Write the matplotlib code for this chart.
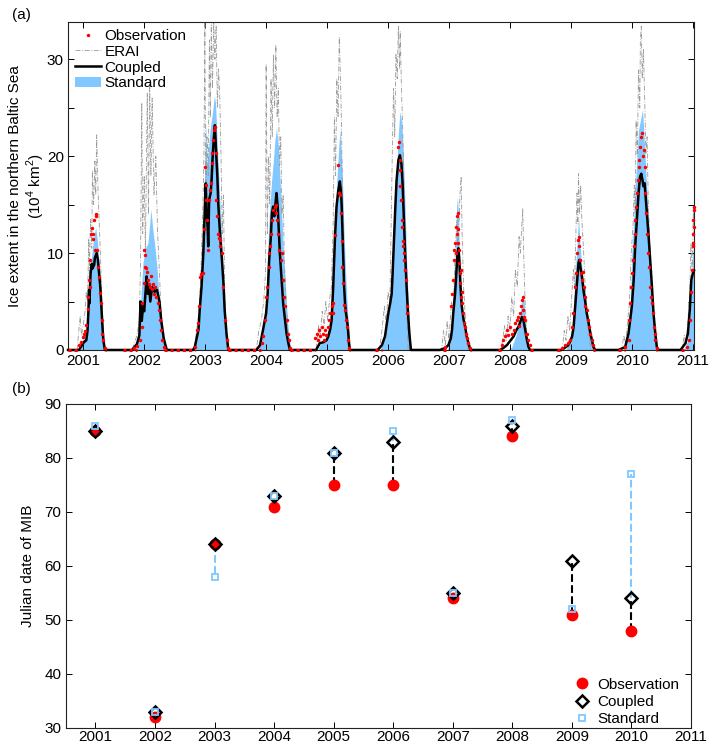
import matplotlib
matplotlib.use("Agg")
import matplotlib.pyplot as plt
import numpy as np
from matplotlib.lines import Line2D
from matplotlib.patches import Patch

plt.rcParams["font.family"] = ["Liberation Sans", "DejaVu Sans"]
plt.rcParams["mathtext.fontset"] = "custom"
plt.rcParams["mathtext.rm"] = "Liberation Sans"
plt.rcParams["font.size"] = 11

# ---------------------------------------------------------------------------
# (a) ice extent, 10^4 km^2 at (decimal year, value)
# ---------------------------------------------------------------------------
COUPLED = [
    (2000.75, 0),
    (2000.93, 0), (2000.98, 0.5), (2001.01, 0.8), (2001.05, 1.0), (2001.07, 2.0), (2001.085, 4.1),
    (2001.095, 6.2), (2001.10, 4.8), (2001.11, 6.5), (2001.12, 7.9), (2001.14, 8.9), (2001.15, 8.4),
    (2001.18, 8.8), (2001.19, 9.5), (2001.22, 10.0), (2001.24, 9.3), (2001.26, 7.9), (2001.28, 6.5),
    (2001.30, 4.1), (2001.315, 2.4), (2001.33, 1.0), (2001.355, 0),
    (2001.80, 0), (2001.88, 0.6), (2001.92, 1.5), (2001.94, 5.0), (2001.96, 3.0), (2001.98, 4.5),
    (2002.00, 4.0), (2002.04, 7.6), (2002.06, 5.8), (2002.08, 6.8), (2002.10, 5.0), (2002.13, 6.5),
    (2002.17, 6.0), (2002.21, 6.2), (2002.25, 5.0), (2002.28, 3.0), (2002.32, 1.2), (2002.37, 0),
    (2002.80, 0), (2002.83, 0.3), (2002.89, 2.1), (2002.91, 4.1), (2002.94, 6.5), (2002.97, 10.0),
    (2002.995, 14.8), (2003.01, 17.2), (2003.02, 14.5), (2003.04, 12.7), (2003.05, 10.7),
    (2003.065, 15.5), (2003.09, 16.2), (2003.105, 17.5), (2003.12, 19.6), (2003.14, 21.7),
    (2003.16, 23.2), (2003.175, 21.0), (2003.20, 17.9), (2003.215, 15.1), (2003.23, 13.4),
    (2003.25, 11.4), (2003.275, 9.3), (2003.30, 6.9), (2003.32, 4.1), (2003.35, 1.7), (2003.38, 0),
    (2003.84, 0), (2003.90, 0.5), (2003.95, 2.1), (2004.0, 3.8), (2004.025, 5.8), (2004.05, 9.3),
    (2004.075, 11.4), (2004.095, 14.1), (2004.115, 14.8), (2004.135, 13.8), (2004.15, 14.8),
    (2004.17, 16.2), (2004.19, 14.8), (2004.205, 12.7), (2004.225, 10.0), (2004.255, 7.2),
    (2004.28, 4.8), (2004.31, 3.1), (2004.335, 1.7), (2004.365, 0.7), (2004.39, 0),
    (2004.82, 0), (2004.88, 0.7), (2004.94, 0.8), (2004.99, 1.0), (2005.02, 1.4), (2005.05, 2.1),
    (2005.075, 3.1), (2005.10, 6.5), (2005.13, 11.7), (2005.155, 14.8), (2005.185, 16.5),
    (2005.21, 17.4), (2005.23, 16.2), (2005.24, 14.8), (2005.255, 11.7), (2005.265, 9.3),
    (2005.28, 6.5), (2005.295, 4.8), (2005.31, 3.8), (2005.32, 3.4), (2005.34, 2.4),
    (2005.36, 0.7), (2005.375, 0),
    (2005.83, 0), (2005.90, 0.5), (2005.95, 1.4), (2005.99, 3.1), (2006.01, 4.0), (2006.035, 4.8),
    (2006.06, 5.8), (2006.075, 7.9), (2006.10, 11.7), (2006.12, 14.8), (2006.14, 17.5),
    (2006.17, 19.6), (2006.195, 20.1), (2006.22, 19.2), (2006.24, 17.0), (2006.26, 13.4),
    (2006.28, 10.0), (2006.305, 6.5), (2006.325, 4.1), (2006.35, 1.7), (2006.375, 0),
    (2006.85, 0), (2006.94, 0.2), (2006.99, 0.5), (2007.03, 1.2), (2007.05, 2.1), (2007.07, 3.8),
    (2007.10, 5.8), (2007.12, 7.9), (2007.14, 10.0), (2007.155, 10.5), (2007.17, 9.3),
    (2007.19, 6.5), (2007.21, 4.5), (2007.24, 3.1), (2007.265, 2.4), (2007.29, 1.4),
    (2007.32, 0.7), (2007.35, 0),
    (2007.84, 0), (2007.89, 0.2), (2007.95, 0.5), (2008.0, 0.9), (2008.06, 1.4), (2008.11, 2.1),
    (2008.14, 2.4), (2008.17, 2.9), (2008.195, 3.4), (2008.22, 3.1), (2008.25, 2.1),
    (2008.28, 1.0), (2008.305, 0.3), (2008.33, 0),
    (2008.85, 0), (2008.96, 0.5), (2009.02, 1.4), (2009.045, 2.4), (2009.07, 4.5), (2009.10, 6.9),
    (2009.125, 9.0), (2009.14, 9.3), (2009.155, 8.6), (2009.18, 7.6), (2009.21, 6.0),
    (2009.235, 5.0), (2009.26, 3.8), (2009.29, 2.8), (2009.32, 1.7), (2009.345, 1.0),
    (2009.37, 0.3), (2009.40, 0),
    (2009.78, 0), (2009.89, 0.3), (2009.945, 1.7), (2010.0, 4.5), (2010.03, 7.2), (2010.055, 10.7),
    (2010.085, 13.8), (2010.11, 16.2), (2010.135, 17.9), (2010.155, 18.2), (2010.175, 17.5),
    (2010.19, 16.9), (2010.21, 17.2), (2010.23, 15.5), (2010.245, 14.1), (2010.275, 11.7),
    (2010.30, 9.3), (2010.33, 6.5), (2010.355, 3.8), (2010.385, 1.7), (2010.41, 0.3), (2010.43, 0),
    (2010.80, 0), (2010.88, 0.7), (2010.92, 1.7), (2010.95, 4.1), (2010.975, 7.2), (2011.0, 7.9),
    (2011.02, 8.2),
]

STANDARD = [
    (2000.95, 0), (2000.99, 1.0), (2001.04, 2.0), (2001.07, 4.1), (2001.10, 6.5), (2001.12, 8.6),
    (2001.15, 10.5), (2001.18, 12.0), (2001.205, 12.6), (2001.23, 11.4), (2001.26, 9.0),
    (2001.29, 5.8), (2001.315, 3.1), (2001.35, 0.5), (2001.37, 0),
    (2001.85, 0), (2001.92, 1.5), (2001.95, 6.0), (2001.98, 9.0), (2002.02, 10.5), (2002.06, 11.0),
    (2002.09, 13.0), (2002.11, 14.5), (2002.14, 12.5), (2002.17, 11.0), (2002.21, 8.5),
    (2002.25, 5.0), (2002.29, 2.5), (2002.34, 0.5), (2002.38, 0),
    (2002.82, 0), (2002.87, 1.5), (2002.91, 4.5), (2002.94, 10.0), (2002.97, 13.5), (2002.99, 18.0),
    (2003.01, 23.5), (2003.03, 19.0), (2003.05, 20.5), (2003.08, 22.7), (2003.12, 24.5),
    (2003.15, 26.2), (2003.17, 25.5), (2003.20, 21.0), (2003.23, 16.9), (2003.27, 11.7),
    (2003.30, 7.2), (2003.32, 3.8), (2003.35, 1.2), (2003.39, 0),
    (2003.87, 0), (2003.93, 1.0), (2003.98, 3.1), (2004.01, 6.5), (2004.035, 11.7), (2004.06, 14.8),
    (2004.09, 17.5), (2004.12, 19.6), (2004.145, 21.7), (2004.17, 22.9), (2004.20, 21.0),
    (2004.23, 17.5), (2004.255, 14.1), (2004.28, 10.7), (2004.31, 7.2), (2004.335, 4.5),
    (2004.36, 2.4), (2004.39, 0.7), (2004.42, 0),
    (2004.85, 0), (2004.88, 0.5), (2004.99, 1.4), (2005.05, 3.1), (2005.10, 8.3), (2005.13, 12.7),
    (2005.155, 16.9), (2005.185, 20.3), (2005.21, 22.7), (2005.24, 19.6), (2005.255, 16.9),
    (2005.275, 12.7), (2005.295, 9.3), (2005.32, 5.8), (2005.35, 2.4), (2005.375, 0.2),
    (2005.38, 0),
    (2005.87, 0), (2005.92, 1.0), (2006.005, 3.8), (2006.06, 6.5), (2006.085, 10.0),
    (2006.115, 14.1), (2006.14, 18.6), (2006.17, 22.4), (2006.195, 24.6), (2006.22, 23.7),
    (2006.25, 20.3), (2006.28, 14.8), (2006.305, 9.3), (2006.335, 4.5), (2006.36, 1.4),
    (2006.385, 0),
    (2006.97, 0), (2007.02, 1.0), (2007.07, 4.8), (2007.10, 9.3), (2007.125, 14.8), (2007.14, 15.7),
    (2007.155, 14.1), (2007.17, 10.0), (2007.19, 5.8), (2007.21, 3.8), (2007.24, 2.4),
    (2007.265, 1.4), (2007.29, 0.7), (2007.32, 0.2), (2007.33, 0),
    (2007.95, 0), (2008.03, 0.3), (2008.11, 1.7), (2008.17, 3.8), (2008.20, 5.2), (2008.21, 5.8),
    (2008.235, 4.8), (2008.26, 2.4), (2008.28, 1.0), (2008.31, 0.2), (2008.32, 0),
    (2008.92, 0), (2008.98, 1.0), (2009.02, 2.4), (2009.045, 4.8), (2009.07, 7.9), (2009.10, 10.7),
    (2009.125, 13.8), (2009.15, 10.7), (2009.18, 8.6), (2009.205, 7.2), (2009.235, 5.8),
    (2009.26, 4.1), (2009.29, 3.1), (2009.345, 1.4), (2009.39, 0.2), (2009.40, 0),
    (2009.86, 0), (2009.92, 1.0), (2009.975, 4.8), (2010.0, 10.0), (2010.03, 13.4),
    (2010.055, 16.9), (2010.09, 20.5), (2010.11, 22.7), (2010.15, 24.0), (2010.175, 24.8),
    (2010.195, 22.7), (2010.22, 19.6), (2010.245, 16.5), (2010.275, 13.1), (2010.30, 9.6),
    (2010.33, 6.2), (2010.355, 3.1), (2010.385, 1.0), (2010.41, 0),
    (2010.85, 0), (2010.92, 1.0), (2010.95, 3.1), (2010.975, 6.5), (2011.0, 10.0), (2011.02, 11.0),
]

ERAI = [
    (2000.90, 0), (2000.92, 1.5), (2000.95, 3.5), (2000.97, 1.5), (2001.0, 2.5), (2001.03, 4.0),
    (2001.05, 6.0), (2001.07, 5.0), (2001.09, 11.5), (2001.10, 8.0), (2001.12, 13.5),
    (2001.14, 10.5), (2001.15, 18.5), (2001.17, 15.0), (2001.19, 19.5), (2001.205, 16.0),
    (2001.22, 22.2), (2001.24, 17.0), (2001.26, 13.4), (2001.285, 9.3), (2001.30, 5.8),
    (2001.325, 2.4), (2001.345, 0),
    (2001.80, 0), (2001.88, 1.5), (2001.92, 3.0), (2001.94, 9.0), (2001.96, 25.5), (2001.975, 12.0),
    (2002.0, 18.0), (2002.02, 10.0), (2002.05, 26.5), (2002.07, 14.0), (2002.09, 27.5),
    (2002.11, 18.0), (2002.13, 26.0), (2002.16, 16.0), (2002.19, 20.0), (2002.22, 12.0),
    (2002.25, 8.0), (2002.28, 3.0), (2002.32, 0),
    (2002.82, 0), (2002.86, 2.0), (2002.90, 4.0), (2002.93, 8.0), (2002.96, 14.0), (2002.98, 20.0),
    (2002.995, 34.0), (2003.01, 15.0), (2003.03, 22.0), (2003.05, 18.0), (2003.07, 32.0),
    (2003.085, 24.0), (2003.10, 34.0), (2003.12, 27.0), (2003.14, 34.0), (2003.16, 30.0),
    (2003.18, 33.5), (2003.20, 25.0), (2003.22, 29.0), (2003.24, 26.0), (2003.26, 20.0),
    (2003.28, 12.0), (2003.30, 16.0), (2003.32, 6.0), (2003.35, 1.0), (2003.37, 0),
    (2003.84, 0), (2003.88, 2.0), (2003.92, 3.0), (2003.96, 5.0), (2003.99, 8.0), (2004.0, 29.5),
    (2004.02, 12.0), (2004.04, 20.0), (2004.06, 15.0), (2004.08, 28.0), (2004.10, 22.0),
    (2004.12, 30.5), (2004.14, 25.0), (2004.16, 31.5), (2004.18, 24.0), (2004.20, 27.0),
    (2004.22, 19.0), (2004.24, 22.0), (2004.26, 14.0), (2004.28, 16.0), (2004.30, 9.0),
    (2004.33, 5.0), (2004.36, 1.5), (2004.38, 0),
    (2004.82, 0), (2004.86, 2.5), (2004.89, 1.5), (2004.92, 4.0), (2004.95, 2.5), (2004.98, 5.0),
    (2005.01, 3.0), (2005.04, 5.2), (2005.07, 6.5), (2005.10, 13.0), (2005.12, 24.0),
    (2005.14, 18.0), (2005.16, 28.0), (2005.18, 24.0), (2005.20, 32.3), (2005.22, 28.0),
    (2005.235, 23.7), (2005.25, 17.0), (2005.27, 10.0), (2005.29, 6.0), (2005.32, 3.0),
    (2005.35, 0),
    (2005.86, 0), (2005.90, 2.0), (2005.94, 4.5), (2005.97, 2.5), (2006.00, 6.0), (2006.03, 5.0),
    (2006.05, 13.0), (2006.07, 20.3), (2006.09, 27.0), (2006.11, 22.0), (2006.13, 30.6),
    (2006.15, 28.0), (2006.17, 33.4), (2006.19, 29.0), (2006.20, 32.9), (2006.22, 27.0),
    (2006.24, 23.0), (2006.26, 16.9), (2006.28, 10.0), (2006.30, 5.0), (2006.33, 0),
    (2006.88, 0), (2006.91, 2.0), (2006.94, 0.5), (2006.97, 3.0), (2007.0, 1.0), (2007.04, 5.0),
    (2007.07, 4.0), (2007.10, 10.0), (2007.13, 13.4), (2007.15, 10.0), (2007.18, 16.0),
    (2007.20, 17.9), (2007.215, 12.0), (2007.24, 6.5), (2007.27, 3.1), (2007.29, 1.0),
    (2007.31, 0),
    (2007.85, 0), (2007.88, 1.0), (2007.91, 2.5), (2007.94, 1.0), (2007.97, 3.5), (2008.0, 2.0),
    (2008.03, 5.5), (2008.06, 3.5), (2008.09, 8.3), (2008.12, 6.5), (2008.15, 11.7),
    (2008.17, 10.0), (2008.21, 14.6), (2008.225, 10.0), (2008.25, 4.8), (2008.28, 1.4),
    (2008.31, 0),
    (2008.86, 0), (2008.89, 2.0), (2008.92, 1.0), (2008.95, 3.5), (2008.98, 2.0), (2009.01, 5.2),
    (2009.04, 8.3), (2009.06, 6.5), (2009.08, 11.7), (2009.10, 16.2), (2009.115, 13.0),
    (2009.125, 18.2), (2009.14, 14.0), (2009.16, 17.0), (2009.18, 13.4), (2009.21, 10.0),
    (2009.235, 6.5), (2009.26, 4.1), (2009.29, 2.0), (2009.32, 0),
    (2009.83, 0), (2009.87, 1.5), (2009.90, 0.5), (2009.93, 3.0), (2009.96, 4.8), (2009.99, 10.0),
    (2010.02, 13.0), (2010.04, 17.0), (2010.055, 14.0), (2010.07, 23.7), (2010.09, 20.0),
    (2010.11, 28.9), (2010.13, 25.0), (2010.14, 32.0), (2010.155, 33.4), (2010.17, 28.0),
    (2010.19, 31.0), (2010.21, 26.0), (2010.23, 20.3), (2010.25, 22.0), (2010.27, 15.1),
    (2010.29, 12.0), (2010.30, 10.0), (2010.33, 5.8), (2010.355, 3.1), (2010.385, 1.0),
    (2010.41, 0),
    (2010.82, 0), (2010.86, 1.5), (2010.89, 0.5), (2010.92, 3.0), (2010.95, 6.0), (2010.97, 11.0),
    (2010.99, 8.0), (2011.01, 14.8), (2011.02, 12.0),
]

OBSERVATION = [
    (2000.93, 0.5), (2000.96, 0.8), (2000.99, 1.3), (2001.01, 1.6), (2001.03, 2.0), (2001.05, 2.6),
    (2001.07, 4.2), (2001.08, 5.5), (2001.095, 7.2), (2001.105, 9.3), (2001.11, 6.5),
    (2001.12, 12.0), (2001.14, 12.6), (2001.155, 11.5), (2001.16, 12.0), (2001.175, 13.4),
    (2001.19, 10.3), (2001.205, 13.8), (2001.215, 14.0), (2001.23, 10.3), (2001.245, 8.6),
    (2001.26, 7.5), (2001.275, 5.9), (2001.285, 4.8), (2001.30, 3.1), (2001.315, 1.7),
    (2001.33, 1.0), (2001.355, 0.2),
    (2001.84, 0.2), (2001.88, 0.4), (2001.93, 1.0), (2001.96, 2.4), (2001.97, 4.8), (2001.99, 6.9),
    (2002.00, 10.3), (2002.01, 9.8), (2002.02, 8.6), (2002.03, 8.5), (2002.05, 8.0),
    (2002.07, 7.2), (2002.08, 6.8), (2002.10, 6.5), (2002.11, 7.6), (2002.13, 6.3),
    (2002.15, 6.8), (2002.16, 5.8), (2002.18, 6.5), (2002.20, 5.5), (2002.22, 4.8),
    (2002.24, 4.1), (2002.26, 3.1), (2002.27, 2.1), (2002.30, 1.0), (2002.33, 0.3),
    (2002.83, 0.3), (2002.86, 2.1), (2002.89, 2.8), (2002.90, 4.5), (2002.92, 7.5),
    (2002.935, 7.8), (2002.96, 7.9), (2002.98, 12.5), (2002.995, 18.9), (2003.01, 17.0),
    (2003.02, 15.5), (2003.035, 13.4), (2003.05, 10.3), (2003.06, 15.5), (2003.075, 16.5),
    (2003.095, 17.2), (2003.11, 19.3), (2003.12, 20.3), (2003.13, 21.7), (2003.15, 22.7),
    (2003.16, 23.0), (2003.17, 20.3), (2003.185, 15.5), (2003.195, 13.8), (2003.21, 12.0),
    (2003.23, 11.6), (2003.24, 11.4), (2003.25, 10.7), (2003.27, 10.0), (2003.295, 6.5),
    (2003.32, 3.1), (2003.35, 1.0), (2003.38, 0.2),
    (2003.93, 0.7), (2003.95, 1.4), (2003.98, 3.1), (2004.0, 5.5), (2004.02, 6.5), (2004.04, 8.6),
    (2004.05, 10.0), (2004.06, 10.7), (2004.08, 12.0), (2004.095, 13.4), (2004.115, 14.4),
    (2004.145, 14.8), (2004.16, 14.1), (2004.17, 15.0), (2004.185, 13.4), (2004.20, 12.0),
    (2004.215, 10.3), (2004.24, 9.3), (2004.255, 10.0), (2004.27, 7.2), (2004.29, 5.5),
    (2004.31, 4.5), (2004.335, 3.1), (2004.355, 1.7), (2004.375, 1.0), (2004.39, 0.2),
    (2004.80, 1.2), (2004.83, 1.7), (2004.85, 1.0), (2004.87, 2.1), (2004.89, 1.4), (2004.91, 2.4),
    (2004.93, 1.7), (2004.95, 1.0), (2004.97, 2.1), (2004.99, 1.5), (2005.01, 2.4), (2005.03, 3.1),
    (2005.05, 3.8), (2005.075, 4.5), (2005.09, 4.8), (2005.10, 3.8), (2005.13, 11.9),
    (2005.185, 19.1), (2005.20, 16.2), (2005.21, 16.0), (2005.225, 14.1), (2005.24, 11.2),
    (2005.25, 8.6), (2005.265, 6.9), (2005.28, 4.6), (2005.295, 4.1), (2005.31, 3.1),
    (2005.32, 2.4), (2005.35, 1.0), (2005.365, 0.2),
    (2006.17, 21.0), (2006.185, 21.5), (2006.19, 19.6), (2006.195, 16.9), (2006.20, 18.6),
    (2006.21, 15.5), (2006.225, 13.4), (2006.235, 12.7), (2006.24, 10.7), (2006.25, 11.2),
    (2006.26, 10.0), (2006.27, 9.3), (2006.28, 8.3), (2006.29, 7.2), (2006.305, 4.5),
    (2006.315, 3.8),
    (2006.94, 0.3), (2007.04, 4.5), (2007.05, 5.8), (2007.06, 7.2), (2007.08, 9.3), (2007.09, 10.3),
    (2007.10, 11.0), (2007.11, 10.0), (2007.115, 12.7), (2007.125, 13.8), (2007.13, 12.0),
    (2007.14, 14.1), (2007.145, 12.5), (2007.15, 11.0), (2007.16, 9.0), (2007.165, 10.3),
    (2007.175, 7.9), (2007.185, 6.9), (2007.195, 8.3), (2007.20, 5.5), (2007.21, 6.0),
    (2007.22, 4.8), (2007.235, 3.8), (2007.25, 2.8), (2007.265, 2.4), (2007.28, 1.7),
    (2007.30, 1.2), (2007.32, 0.7), (2007.34, 0.2),
    (2007.87, 0.5), (2007.89, 1.0), (2007.92, 1.4), (2007.95, 2.1), (2007.975, 1.5), (2008.0, 2.4),
    (2008.03, 1.7), (2008.06, 2.1), (2008.085, 2.8), (2008.11, 3.1), (2008.14, 3.4),
    (2008.155, 2.5), (2008.17, 3.8), (2008.18, 4.5), (2008.195, 5.2), (2008.21, 5.5),
    (2008.22, 4.1), (2008.235, 3.4), (2008.25, 3.1), (2008.265, 1.7), (2008.28, 1.7),
    (2008.30, 1.0), (2008.33, 0.5),
    (2008.85, 0.2), (2008.90, 0.5), (2008.95, 0.7), (2008.99, 1.0), (2009.015, 2.4), (2009.04, 3.8),
    (2009.07, 6.5), (2009.08, 7.9), (2009.095, 10.0), (2009.11, 11.4), (2009.125, 11.7),
    (2009.135, 10.7), (2009.15, 9.3), (2009.17, 7.9), (2009.18, 7.2), (2009.20, 8.0),
    (2009.21, 6.5), (2009.225, 5.5), (2009.235, 4.5), (2009.26, 4.1), (2009.28, 3.1),
    (2009.29, 2.4), (2009.315, 1.7), (2009.345, 1.0), (2009.37, 0.5),
    (2009.89, 0.3), (2009.946, 1.0), (2009.957, 3.1), (2009.973, 4.8), (2009.99, 6.5),
    (2010.0, 7.9), (2010.012, 9.3), (2010.028, 10.7), (2010.045, 12.0), (2010.056, 13.4),
    (2010.067, 14.8), (2010.083, 16.2), (2010.10, 17.5), (2010.11, 18.9), (2010.121, 19.6),
    (2010.138, 21.0), (2010.154, 22.0), (2010.165, 22.4), (2010.176, 20.0), (2010.192, 20.6),
    (2010.209, 18.9), (2010.22, 16.2), (2010.231, 14.1), (2010.247, 12.0), (2010.263, 10.0),
    (2010.274, 8.6), (2010.302, 6.5), (2010.318, 5.5), (2010.329, 4.8), (2010.34, 3.8),
    (2010.357, 2.4), (2010.373, 1.7), (2010.384, 1.0), (2010.411, 0.2),
    (2010.90, 0.3), (2010.93, 1.0), (2010.96, 3.1), (2010.975, 6.0), (2010.985, 8.3),
    (2010.995, 10.7), (2011.0, 12.0), (2011.005, 11.0), (2011.01, 13.4), (2011.015, 14.4),
    (2011.018, 12.7), (2011.02, 14.8),
]

# stretches where the observation record is zero (dense dots on the baseline)
OBS_ZERO_START = [2000.75, 2001.355, 2001.66, 2002.33, 2003.38, 2004.39, 2005.365, 2005.79,
                  2006.90, 2007.345, 2007.81, 2008.33, 2008.77, 2009.37, 2009.78, 2010.39, 2010.80]
OBS_ZERO_END = [2000.93, 2001.37, 2001.88, 2002.83, 2003.92, 2004.80, 2005.38, 2005.90,
                2006.95, 2007.36, 2007.87, 2008.39, 2008.85, 2009.39, 2009.89, 2010.41, 2010.90]

# ---------------------------------------------------------------------------
# (b) Julian date of MIB
# ---------------------------------------------------------------------------
MIB_YEARS = [2001, 2002, 2003, 2004, 2005, 2006, 2007, 2008, 2009, 2010]
MIB_OBS = [85, 32, 64, 71, 75, 75, 54, 84, 51, 48]
MIB_COUPLED = [85, 33, 64, 73, 81, 83, 55, 86, 61, 54]
MIB_STANDARD = [86, 33, 58, 73, 81, 85, 55, 87, 52, 77]

BLUE = "#80c8ff"
GREY = "#9a9a9a"


def as_xy(pairs):
    a = np.array(pairs, dtype=float)
    return a[:, 0], a[:, 1]


def matlab_axes(ax):
    ax.tick_params(direction="in", top=True, right=True, length=4, width=0.7,
                   labelsize=11, pad=3)
    for s in ax.spines.values():
        s.set_linewidth(0.8)
        s.set_color("#222222")


fig = plt.figure(figsize=(7.1, 7.47), dpi=100)

# ---- panel (a)
ax1 = fig.add_axes([0.0958, 0.5315, 0.8817, 0.4390])
st_t, st_v = as_xy(STANDARD)
er_t, er_v = as_xy(ERAI)
cp_t, cp_v = as_xy(COUPLED)
ob_t, ob_v = as_xy(OBSERVATION)

ax1.fill_between(st_t, 0, st_v, color=BLUE, lw=0, zorder=1)
ax1.plot(er_t, er_v, color=GREY, lw=0.6, ls=(0, (6, 2, 1, 2)), zorder=2)
ax1.plot(cp_t, cp_v, color="black", lw=1.8, zorder=3, clip_on=False)
ax1.hlines(np.zeros(len(OBS_ZERO_START)), OBS_ZERO_START, OBS_ZERO_END, colors="red",
           lw=2.2, linestyles=[(0, (1, 1))], zorder=4, clip_on=False)
ax1.plot(ob_t, ob_v, ls="none", marker="o", ms=2.5, mfc="red", mec="red", mew=0,
         zorder=5, clip_on=False)

ax1.set_xlim(2000.75, 2011.02)
ax1.set_ylim(0, 33.85)
ax1.set_xticks(range(2001, 2012))
ax1.set_xticklabels([str(y) for y in range(2001, 2012)])
ax1.set_yticks(range(0, 31, 5))
ax1.set_yticklabels([str(v) if v % 10 == 0 else "" for v in range(0, 31, 5)])
matlab_axes(ax1)
ax1.set_ylabel("Ice extent in the northern Baltic Sea\n(10$^4$ km$^2$)",
               fontsize=11, labelpad=0, linespacing=1.15)

leg_a = [
    Line2D([], [], ls="none", marker="o", ms=2.5, mfc="red", mec="red", mew=0),
    Line2D([], [], color=GREY, lw=0.6, ls=(0, (6, 2, 1, 2))),
    Line2D([], [], color="black", lw=1.8),
    Patch(facecolor=BLUE, edgecolor="none"),
]
ax1.legend(leg_a, ["Observation", "ERAI", "Coupled", "Standard"], loc="upper left",
           frameon=False, fontsize=11, handlelength=1.7, handletextpad=0.25,
           labelspacing=0.12, borderaxespad=0.2, borderpad=0.25)

# ---- panel (b)
ax2 = fig.add_axes([0.0925, 0.0255, 0.8807, 0.4337])
ax2.vlines(MIB_YEARS, MIB_OBS, MIB_STANDARD, colors=BLUE, linestyles="--", lw=1.5, zorder=1)
ax2.vlines(MIB_YEARS, MIB_OBS, MIB_COUPLED, colors="black", linestyles="--", lw=1.5, zorder=2)
ax2.plot(MIB_YEARS, MIB_OBS, ls="none", marker="o", ms=7.5, mfc="red", mec="red",
         zorder=3, label="Observation")
ax2.plot(MIB_YEARS, MIB_COUPLED, ls="none", marker="D", ms=6.5, mfc="none", mec="black",
         mew=1.8, zorder=4, label="Coupled")
ax2.plot(MIB_YEARS, MIB_STANDARD, ls="none", marker="s", ms=5, mfc="none", mec=BLUE,
         mew=1.3, zorder=5, label="Standard")

ax2.set_xlim(2000.5, 2011)
ax2.set_ylim(30, 90)
ax2.set_xticks(range(2001, 2012))
ax2.set_xticklabels([str(y) for y in range(2001, 2012)])
ax2.set_yticks(range(30, 91, 10))
matlab_axes(ax2)
ax2.tick_params(axis="x", pad=1.5)
ax2.set_ylabel("Julian date of MIB", fontsize=11, labelpad=7)
ax2.legend(loc="lower right", bbox_to_anchor=(0.991, -0.014), frameon=False, fontsize=11,
           handlelength=1.0, handletextpad=0.5, labelspacing=0.22, borderaxespad=0)

fig.text(0.017, 0.989, "(a)", fontsize=11, va="top", ha="left")
fig.text(0.017, 0.489, "(b)", fontsize=11, va="top", ha="left")

fig.savefig("out.png", dpi=100)
